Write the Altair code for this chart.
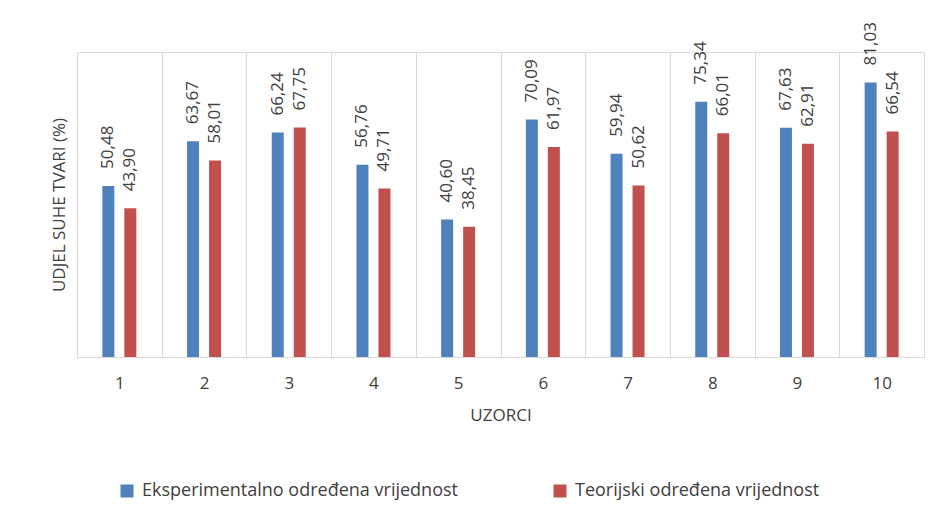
import altair as alt
import pandas as pd

samples = ["1", "2", "3", "4", "5", "6", "7", "8", "9", "10"]
series_names = ["Eksperimentalno određena vrijednost", "Teorijski određena vrijednost"]
experimental = [50.48, 63.67, 66.24, 56.76, 40.60, 70.09, 59.94, 75.34, 67.63, 81.03]
theoretical = [43.90, 58.01, 67.75, 49.71, 38.45, 61.97, 50.62, 66.01, 62.91, 66.54]
colors = ["#4F81BD", "#C0504D"]

rows = []
for s, e, t in zip(samples, experimental, theoretical):
    rows.append({"uzorak": s, "serija": series_names[0], "vrijednost": e,
                 "oznaka": f"{e:.2f}".replace(".", ",")})
    rows.append({"uzorak": s, "serija": series_names[1], "vrijednost": t,
                 "oznaka": f"{t:.2f}".replace(".", ",")})
df = pd.DataFrame(rows)

FONT = "Open Sans"
TXT = "#404040"

x_enc = alt.X("uzorak:N", sort=samples, title="UZORCI",
              scale=alt.Scale(paddingInner=0, paddingOuter=0),
              axis=alt.Axis(labelAngle=0, ticks=False, grid=True, tickBand="extent",
                            gridColor="#D9D9D9", domainColor="#D9D9D9",
                            labelFontSize=17, labelPadding=18, labelColor=TXT,
                            titleFontSize=17, titleFontWeight="normal", titleColor=TXT,
                            titlePadding=16, labelFont=FONT, titleFont=FONT))
xoff = alt.XOffset("serija:N", sort=series_names,
                   scale=alt.Scale(paddingInner=0, paddingOuter=0.925))
y_enc = alt.Y("vrijednost:Q", title="UDJEL SUHE TVARI (%)",
              scale=alt.Scale(domain=[0, 90], nice=False),
              axis=alt.Axis(labels=False, ticks=False, domain=False, grid=False,
                            titleFontSize=17, titleFontWeight="normal", titleColor=TXT,
                            titlePadding=9, titleFont=FONT))
color_enc = alt.Color("serija:N", sort=series_names,
                      scale=alt.Scale(domain=series_names, range=colors),
                      legend=alt.Legend(title=None, orient="none", legendX=41, legendY=430,
                                        direction="horizontal", symbolType="square",
                                        symbolSize=169, symbolStrokeWidth=0,
                                        labelFontSize=18, labelFont=FONT, labelColor=TXT,
                                        labelLimit=0, columnPadding=93, labelOffset=6))

base = alt.Chart(df).encode(x=x_enc, xOffset=xoff, y=y_enc)

bars = base.mark_bar(size=12).encode(color=color_enc)
labels = base.mark_text(angle=270, align="left", baseline="middle", dx=17,
                        fontSize=17, font=FONT, color=TXT).encode(text="oznaka:N")

chart = (bars + labels).properties(
    width=847, height=305,
    autosize=alt.AutoSizeParams(type="none"),
    padding={"left": 69, "top": 44, "right": 5, "bottom": 150},
).configure_view(stroke=None).configure(background="white")

chart.save("out.html", embed_options={"renderer": "svg", "actions": False})
